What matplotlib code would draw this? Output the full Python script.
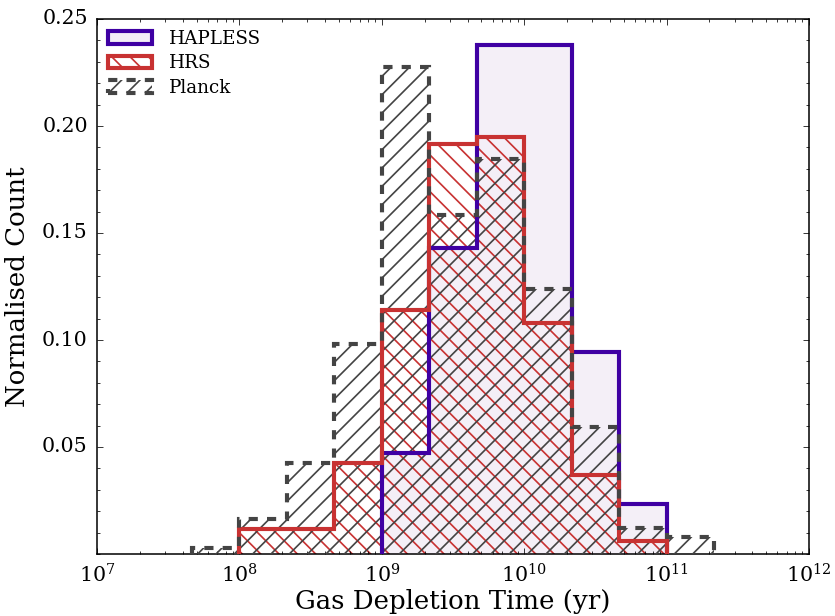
import numpy as np
import matplotlib
matplotlib.use("Agg")
import matplotlib.pyplot as plt
from matplotlib.patches import Patch
from matplotlib.ticker import MultipleLocator, FormatStrFormatter

# ---- data (log10 bin edges in 1/3 dex, normalised counts) ----
hapless_log_edges = [9.0, 9 + 1/3, 9 + 2/3, 10.0, 10 + 1/3, 10 + 2/3, 11.0]
hapless_vals = [0.047, 0.143, 0.238, 0.238, 0.0945, 0.0232]

hrs_log_edges = [8.0, 8 + 1/3, 8 + 2/3, 9.0, 9 + 1/3, 9 + 2/3, 10.0, 10 + 1/3, 10 + 2/3, 11.0]
hrs_vals = [0.0117, 0.0117, 0.0424, 0.114, 0.1916, 0.195, 0.108, 0.0369, 0.0061]

planck_log_edges = [7 + 2/3, 8.0, 8 + 1/3, 8 + 2/3, 9.0, 9 + 1/3, 9 + 2/3, 10.0,
                    10 + 1/3, 10 + 2/3, 11.0, 11 + 1/3]
planck_vals = [0.0028, 0.0164, 0.0425, 0.098, 0.2277, 0.1584, 0.1846, 0.124,
               0.0593, 0.012, 0.0078]

labels = ["HAPLESS", "HRS", "Planck"]
yticks = [0.05, 0.10, 0.15, 0.20, 0.25]

c_hap = "#3f00a3"
c_hap_fill = "#f4eff7"
c_hrs = "#c83232"
c_pl = "#444444"

plt.style.use("classic")
plt.rcParams["font.family"] = ["DejaVu Serif"]
plt.rcParams["mathtext.fontset"] = "dejavuserif"
plt.rcParams["hatch.linewidth"] = 1.1

DPI = 110
fig = plt.figure(figsize=(835 / DPI, 616 / DPI), dpi=DPI, facecolor="white")
ax = fig.add_axes([97 / 835, 1 - 554 / 616, (809 - 97) / 835, (554 - 19) / 616])

e_hap = 10 ** np.array(hapless_log_edges)
e_hrs = 10 ** np.array(hrs_log_edges)
e_pl = 10 ** np.array(planck_log_edges)

lw = 2.7
dash = (0, (6, 6))
# fills / hatches
ax.stairs(hapless_vals, e_hap, fill=True, facecolor=c_hap_fill, edgecolor=c_hap_fill,
          linewidth=0, zorder=1)
ax.stairs(hrs_vals, e_hrs, fill=True, facecolor="none", edgecolor=c_hrs, hatch="\\\\",
          linewidth=0, zorder=2)
ax.stairs(planck_vals, e_pl, fill=True, facecolor="none", edgecolor=c_pl, hatch="//",
          linewidth=0, zorder=3)
# outlines
ax.stairs(hapless_vals, e_hap, fill=False, edgecolor=c_hap, linewidth=lw, zorder=4)
ax.stairs(hrs_vals, e_hrs, fill=False, edgecolor=c_hrs, linewidth=lw, zorder=5)
ax.stairs(planck_vals, e_pl, fill=False, edgecolor=c_pl, linewidth=lw,
          linestyle=dash, zorder=6)

ax.set_xscale("log")
ax.set_xlim(1e7, 1e12)
ax.set_ylim(0, 0.25)
ax.set_yticks(yticks)
ax.yaxis.set_minor_locator(MultipleLocator(0.01))
ax.yaxis.set_major_formatter(FormatStrFormatter("%.2f"))
ax.tick_params(axis="both", which="major", labelsize=13.4, pad=6)

ax.set_xlabel("Gas Depletion Time (yr)", fontsize=17, labelpad=2)
ax.set_ylabel("Normalised Count", fontsize=17, labelpad=8)

handles = [
    Patch(facecolor=c_hap_fill, edgecolor=c_hap, linewidth=lw, label=labels[0]),
    Patch(facecolor="white", edgecolor=c_hrs, linewidth=lw, hatch="\\\\", label=labels[1]),
    Patch(facecolor="none", edgecolor=c_pl, linewidth=lw, hatch="//",
          linestyle=dash, label=labels[2]),
]
ax.legend(handles=handles, loc="upper left", frameon=False, fontsize=12,
          handlelength=2.4, handleheight=0.7, labelspacing=0.35, handletextpad=0.9,
          borderaxespad=0.3, borderpad=0.3)

fig.savefig("out.png", dpi=DPI, facecolor="white")
